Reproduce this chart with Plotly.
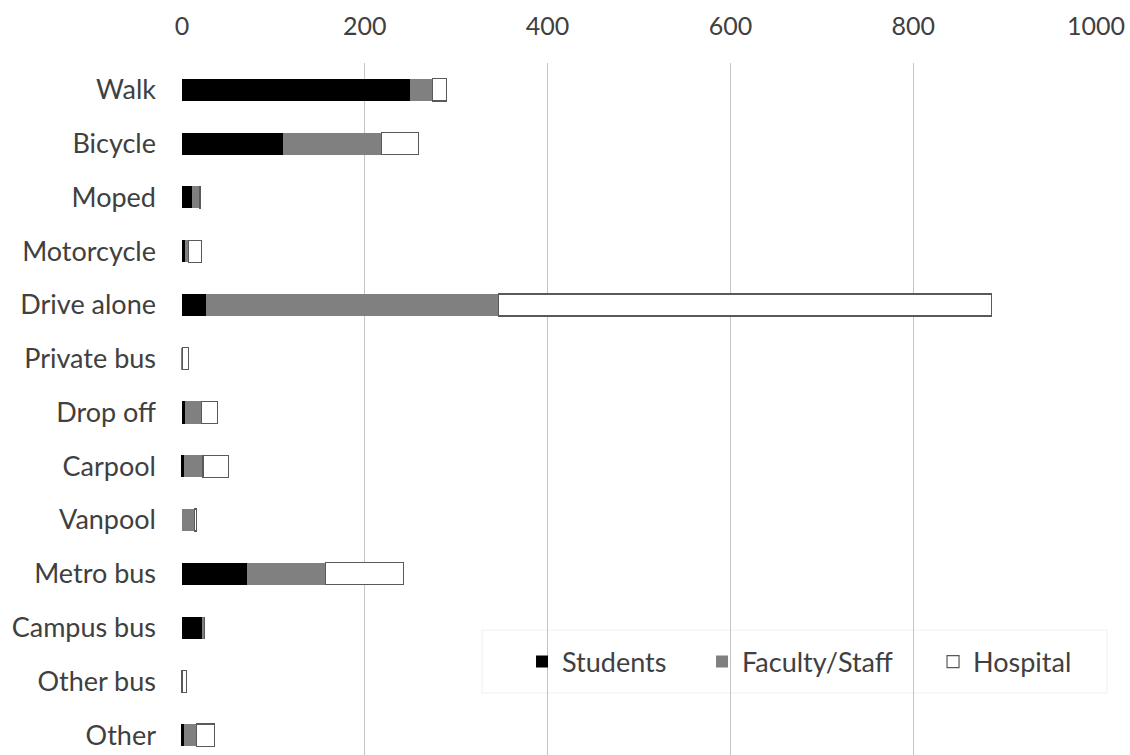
import plotly.graph_objects as go

categories = ["Walk", "Bicycle", "Moped", "Motorcycle", "Drive alone", "Private bus",
              "Drop off", "Carpool", "Vanpool", "Metro bus", "Campus bus", "Other bus", "Other"]
students = [249, 111, 11, 3, 26, 0, 3, 2, 0, 71, 22, 0, 2]
faculty = [25, 107, 8, 4, 320, 1, 18, 21, 14, 86, 3, 0, 14]
hospital = [15, 41, 1, 14, 540, 6, 18, 28, 2, 85, 0, 5, 20]
x_ticks = [0, 200, 400, 600, 800, 1000]

FONT = "Lato"
TXT = "#404040"

fig = go.Figure()
fig.add_trace(go.Bar(y=categories, x=students, name="Students", orientation="h",
                     legend="legend",
                     marker=dict(color="#000000", line=dict(width=0))))
fig.add_trace(go.Bar(y=categories, x=faculty, name="Faculty/Staff", orientation="h",
                     legend="legend2",
                     marker=dict(color="#808080", line=dict(width=0))))
fig.add_trace(go.Bar(y=categories, x=hospital, name="Hospital", orientation="h",
                     legend="legend3",
                     marker=dict(color="#ffffff", line=dict(width=1.2, color="#595959"))))

leg_common = dict(orientation="h", xanchor="left", y=0.1344, yanchor="middle",
                  bgcolor="rgba(0,0,0,0)", borderwidth=0,
                  font=dict(family=FONT, size=27, color=TXT))

fig.update_layout(
    barmode="stack",
    bargap=0.59,
    width=1130, height=755,
    margin=dict(l=181, r=33, t=63, b=0, pad=0),
    paper_bgcolor="white", plot_bgcolor="white",
    font=dict(family=FONT, size=27, color=TXT),
    xaxis=dict(side="top", range=[-1, 1001], tickvals=x_ticks,
               ticktext=[str(v) for v in x_ticks],
               showgrid=True, gridcolor="#c4c4c4", gridwidth=1,
               zeroline=False, showline=False, ticks="",
               ticklabelstandoff=22, automargin=False,
               tickfont=dict(family=FONT, size=25, color=TXT)),
    yaxis=dict(categoryorder="array", categoryarray=categories,
               range=[12.37, -0.5], showgrid=False, zeroline=False,
               showline=False, ticks="", ticklabelstandoff=24, automargin=False,
               tickfont=dict(family=FONT, size=27, color=TXT)),
    legend=dict(x=0.3723, **leg_common),
    legend2=dict(x=0.5688, **leg_common),
    legend3=dict(x=0.821, **leg_common),
    shapes=[dict(type="rect", xref="paper", yref="paper",
                 x0=0.3286, x1=1.0109, y0=0.0896, y1=0.1806,
                 fillcolor="white", line=dict(color="#f0f0f0", width=1),
                 layer="between")],
    showlegend=True,
)

fig.write_html("out.html", config={"displayModeBar": False},
               post_script="document.body.style.margin='0';document.body.style.overflow='hidden';")
